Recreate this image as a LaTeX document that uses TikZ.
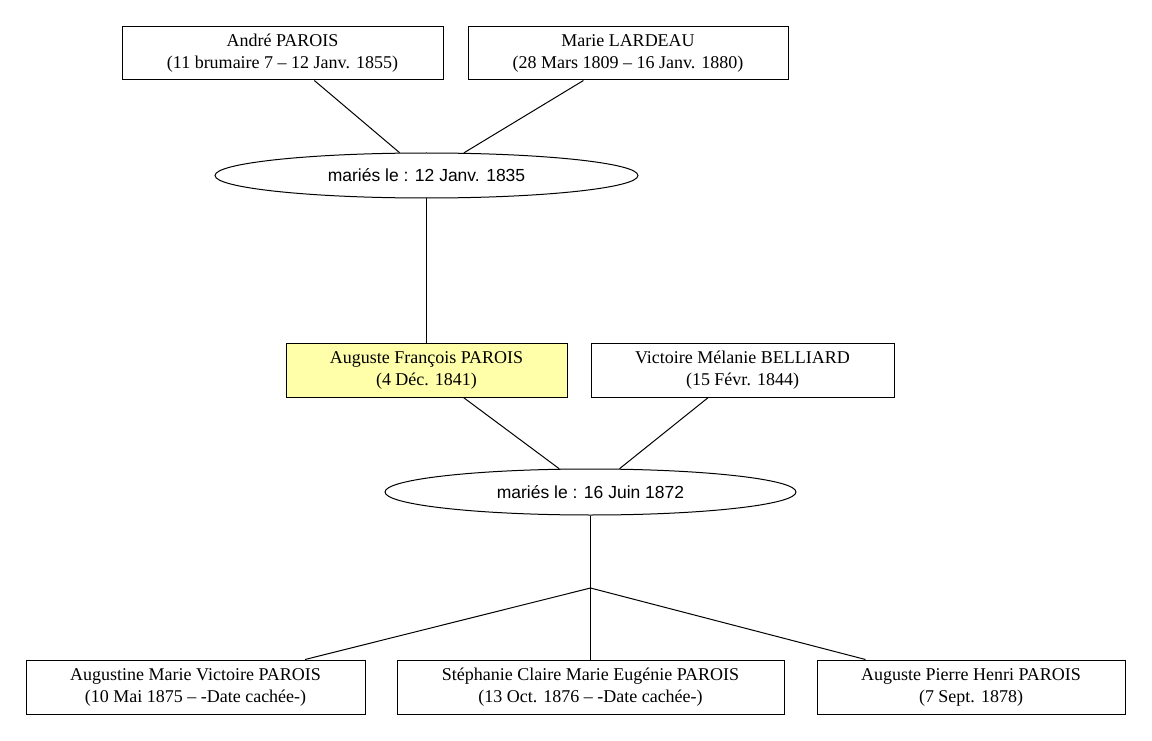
\documentclass[tikz,border=0pt]{standalone}
\usepackage{fontspec}
\setmainfont{Liberation Serif}
\setsansfont{Liberation Sans}
\usetikzlibrary{shapes.geometric}
\definecolor{rootyellow}{RGB}{255,255,170}
\begin{document}
\begin{tikzpicture}[x=1pt,y=-1pt,
    person/.style={rectangle,draw,line width=1pt,minimum height=53pt,inner sep=0pt,align=center,font=\fontsize{18}{22}\selectfont},
    union/.style={ellipse,draw,line width=1pt,inner sep=0pt,font=\sffamily\fontsize{17.5}{21}\selectfont}]
    \useasboundingbox (0,0) rectangle (1152,741);

    \node(andre)[person, minimum width=321pt] at (282.5,53.5) {André PAROIS\\(11 brumaire 7 – 12 Janv. 1855)};
    \node(marie)[person, minimum width=320pt] at (628,53.5) {Marie LARDEAU\\(28 Mars 1809 – 16 Janv. 1880)};
    \node(u1)[union, minimum width=423pt, minimum height=45pt] at (426.5,175.5) {mariés le : 12 Janv. 1835};

    \node(auguste)[person, fill=rootyellow, minimum width=281pt, minimum height=54pt] at (426.5,370) {Auguste François PAROIS\\(4 Déc. 1841)};
    \node(victoire)[person, minimum width=303pt, minimum height=54pt] at (742.5,370) {Victoire Mélanie BELLIARD\\(15 Févr. 1844)};
    \node(u2)[union, minimum width=411pt, minimum height=46pt] at (590.5,492) {mariés le : 16 Juin 1872};

    \coordinate(j) at (590.5,588);
    \node(c1)[person, minimum width=339pt, minimum height=54pt] at (195.5,687) {Augustine Marie Victoire PAROIS\\(10 Mai 1875 – -Date cachée-)};
    \node(c2)[person, minimum width=387pt, minimum height=54pt] at (590.5,687) {Stéphanie Claire Marie Eugénie PAROIS\\(13 Oct. 1876 – -Date cachée-)};
    \node(c3)[person, minimum width=308pt, minimum height=54pt] at (971,687) {Auguste Pierre Henri PAROIS\\(7 Sept. 1878)};

    \draw[line width=1pt] (andre) -- (u1);
    \draw[line width=1pt] (marie) -- (u1);
    \draw[line width=1pt] (u1) -- (auguste);
    \draw[line width=1pt] (auguste) -- (u2);
    \draw[line width=1pt] (victoire) -- (u2);
    \draw[line width=1pt] (u2) -- (j);
    \draw[line width=1pt] (j) -- (c1);
    \draw[line width=1pt] (j) -- (c2);
    \draw[line width=1pt] (j) -- (c3);

  \end{tikzpicture}
\end{document}
